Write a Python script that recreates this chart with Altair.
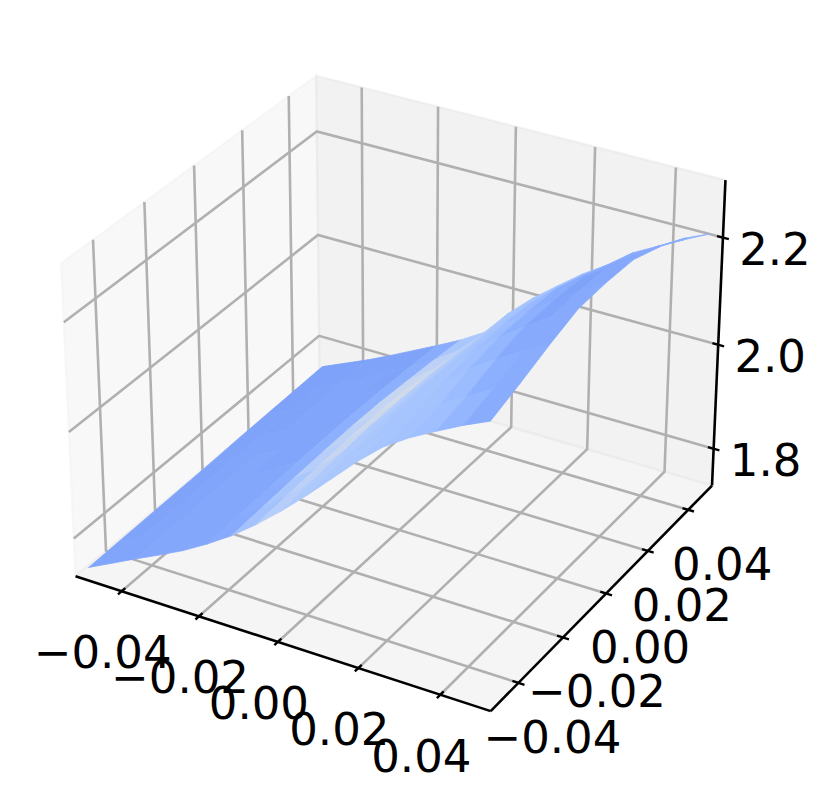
import numpy as np
import pandas as pd
import altair as alt

# ---- values ----
x_ticks = [-0.04, -0.02, 0.00, 0.02, 0.04]
y_ticks = [-0.04, -0.02, 0.00, 0.02, 0.04]
z_ticks = [1.8, 2.0, 2.2]
x_labels = ["\u22120.04", "\u22120.02", "0.00", "0.02", "0.04"]
y_labels = ["\u22120.04", "\u22120.02", "0.00", "0.02", "0.04"]
z_labels = ["1.8", "2.0", "2.2"]
x_lim = [-0.0521, 0.0521]
y_lim = [-0.0521, 0.0521]
z_lim = [1.728, 2.305]
grid_x = [-0.05, -0.04375, -0.0375, -0.03125, -0.025, -0.01875, -0.0125, -0.00625, 0.0,
          0.00625, 0.0125, 0.01875, 0.025, 0.03125, 0.0375, 0.04375, 0.05]
grid_y = [-0.05, -0.0375, -0.025, -0.0125, 0.0, 0.0125, 0.025, 0.0375, 0.05]
z_rows = [
    [1.741, 1.764, 1.787, 1.809, 1.832, 1.859, 1.889, 1.924, 1.963, 2.005, 2.050, 2.095, 2.135, 2.165, 2.190, 2.214, 2.235],
    [1.742, 1.765, 1.787, 1.810, 1.834, 1.861, 1.892, 1.928, 1.968, 2.010, 2.056, 2.102, 2.144, 2.176, 2.204, 2.230, 2.254],
    [1.743, 1.766, 1.788, 1.811, 1.836, 1.864, 1.895, 1.931, 1.972, 2.015, 2.063, 2.111, 2.155, 2.193, 2.223, 2.251, 2.275],
    [1.744, 1.767, 1.788, 1.812, 1.838, 1.866, 1.897, 1.934, 1.976, 2.021, 2.070, 2.118, 2.164, 2.203, 2.236, 2.266, 2.293],
    [1.745, 1.767, 1.789, 1.813, 1.839, 1.867, 1.898, 1.934, 1.976, 2.021, 2.069, 2.118, 2.164, 2.203, 2.236, 2.268, 2.295],
    [1.747, 1.768, 1.789, 1.813, 1.839, 1.867, 1.897, 1.933, 1.974, 2.018, 2.067, 2.114, 2.160, 2.199, 2.232, 2.264, 2.292],
    [1.748, 1.769, 1.789, 1.813, 1.838, 1.865, 1.893, 1.927, 1.968, 2.012, 2.056, 2.100, 2.145, 2.180, 2.210, 2.243, 2.272],
    [1.749, 1.769, 1.789, 1.812, 1.837, 1.862, 1.888, 1.919, 1.962, 2.003, 2.044, 2.085, 2.125, 2.158, 2.188, 2.218, 2.245],
    [1.750, 1.770, 1.790, 1.812, 1.835, 1.858, 1.882, 1.910, 1.960, 2.002, 2.038, 2.073, 2.103, 2.138, 2.163, 2.187, 2.210],
]
c_rows = [
    [.22, .22, .225, .225, .225, .235, .31, .36, .34, .33, .33, .32, .31, .30, .27, .24],
    [.215, .22, .225, .225, .225, .24, .33, .38, .34, .33, .32, .32, .31, .29, .25, .24],
    [.215, .22, .225, .225, .225, .245, .36, .41, .34, .33, .32, .32, .30, .27, .235, .235],
    [.215, .22, .225, .22, .22, .25, .38, .43, .35, .33, .32, .31, .29, .25, .22, .235],
    [.215, .22, .22, .22, .22, .25, .40, .44, .35, .33, .32, .31, .28, .24, .215, .23],
    [.215, .215, .22, .22, .22, .25, .41, .42, .34, .33, .32, .30, .27, .235, .215, .23],
    [.21, .215, .22, .22, .215, .245, .38, .38, .33, .32, .31, .29, .26, .235, .22, .24],
    [.21, .21, .215, .215, .215, .24, .33, .34, .32, .31, .30, .28, .26, .24, .24, .25],
]
cmap_domain = [.20, .25, .30, .35, .40, .45, .50]
cmap_range = ["#7a9df8", "#8db0fe", "#9fbfff", "#b2ccfb", "#c4d5f3", "#d4dbe6", "#dddcdc"]
# box corners as seen in the picture: (x, y, z) index into limits -> pixel
corner_idx = [(0, 1, 1), (0, 0, 1), (1, 1, 1), (0, 0, 0), (1, 0, 0), (1, 1, 0)]
corner_px = [(317, 76), (61, 263), (725, 180), (75, 574), (491, 712), (712, 487)]

# ---- camera of a 3D box (elevation 30, azimuth -60) ----
box = np.array([4, 4, 3]) * 1.8294640721620434 / np.sqrt(41)
el, az = np.radians(30), np.radians(-60)
w = np.array([np.cos(el) * np.cos(az), np.cos(el) * np.sin(az), np.sin(el)])
eye = box / 2 + 10 * w
u = np.cross([0, 0, 1], w)
u /= np.linalg.norm(u)
v = np.cross(w, u)


def cam(x, y, z):
    p = np.array([(x - x_lim[0]) / (x_lim[1] - x_lim[0]),
                  (y - y_lim[0]) / (y_lim[1] - y_lim[0]),
                  (z - z_lim[0]) / (z_lim[1] - z_lim[0])]) * box - eye
    d = -p.dot(w)
    return p.dot(u) / d, p.dot(v) / d, d


_c = [cam(x_lim[i], y_lim[j], z_lim[k]) for i, j, k in corner_idx]
ax_fit = np.polyfit([c[0] for c in _c], [p[0] for p in corner_px], 1)
ay_fit = np.polyfit([c[1] for c in _c], [p[1] for p in corner_px], 1)


def pix(x, y, z):
    a, b, _ = cam(x, y, z)
    return float(np.polyval(ax_fit, a)), float(np.polyval(ay_fit, b))


def path_rows(pid, pts, **extra):
    rows = []
    for i, p in enumerate(pts):
        a, b = pix(*p)
        rows.append(dict(pid=pid, i=i, px=a, py=b, **extra))
    return rows


x0, x1 = x_lim
y0, y1 = y_lim
z0, z1 = z_lim
tick_half = 0.00145

# ---- tables ----
panes = [
    ("#f2f2f2", [(x0, y0, z0), (x0, y1, z0), (x0, y1, z1), (x0, y0, z1), (x0, y0, z0)]),
    ("#e6e6e6", [(x0, y1, z0), (x1, y1, z0), (x1, y1, z1), (x0, y1, z1), (x0, y1, z0)]),
    ("#ececec", [(x0, y0, z0), (x1, y0, z0), (x1, y1, z0), (x0, y1, z0), (x0, y0, z0)]),
]
grid_rows = []
for t in x_ticks:
    grid_rows += path_rows(f"x{t}", [(t, y0, z0), (t, y1, z0), (t, y1, z1)])
for t in y_ticks:
    grid_rows += path_rows(f"y{t}", [(x1, t, z0), (x0, t, z0), (x0, t, z1)])
for t in z_ticks:
    grid_rows += path_rows(f"z{t}", [(x0, y0, t), (x0, y1, t), (x1, y1, t)])
grid_df = pd.DataFrame(grid_rows)

axis_rows = []
axis_rows += path_rows("ax", [(x0, y0, z0), (x1, y0, z0)])
axis_rows += path_rows("ay", [(x1, y0, z0), (x1, y1, z0)])
axis_rows += path_rows("az", [(x1, y1, z0), (x1, y1, z1)])
axis_df = pd.DataFrame(axis_rows)

tick_rows = []
text_rows = {"x": [], "y": [], "z": []}
for t, lab in zip(x_ticks, x_labels):
    tick_rows += path_rows(f"tx{t}", [(t, y0 - tick_half, z0), (t, y0 + tick_half, z0)])
    a, b = pix(t, y0, z0)
    text_rows["x"].append(dict(px=a, py=b, label=lab))
for t, lab in zip(y_ticks, y_labels):
    tick_rows += path_rows(f"ty{t}", [(x1 - tick_half, t, z0), (x1 + tick_half, t, z0)])
    a, b = pix(x1, t, z0)
    text_rows["y"].append(dict(px=a, py=b, label=lab))
for t, lab in zip(z_ticks, z_labels):
    tick_rows += path_rows(f"tz{t}", [(x1 - tick_half, y1, t), (x1 + tick_half, y1, t)])
    a, b = pix(x1, y1, t)
    text_rows["z"].append(dict(px=a, py=b, label=lab))
tick_df = pd.DataFrame(tick_rows)

quads = []
for r in range(len(grid_y) - 1):
    for k in range(len(grid_x) - 1):
        pts = [(grid_x[k], grid_y[r], z_rows[r][k]),
               (grid_x[k + 1], grid_y[r], z_rows[r][k + 1]),
               (grid_x[k + 1], grid_y[r + 1], z_rows[r + 1][k + 1]),
               (grid_x[k], grid_y[r + 1], z_rows[r + 1][k]),
               (grid_x[k], grid_y[r], z_rows[r][k])]
        depth = np.mean([cam(*p)[2] for p in pts[:4]])
        quads.append((depth, r, k, pts))
quads.sort(key=lambda q: -q[0])
surf_rows = []
for n, (_, r, k, pts) in enumerate(quads):
    surf_rows += path_rows(f"q{n:03d}", pts, c=c_rows[r][k])
surf_df = pd.DataFrame(surf_rows)

# ---- chart ----
PX = alt.X("px:Q", scale=alt.Scale(domain=[8, 823], nice=False, zero=False), axis=None)
PY = alt.Y("py:Q", scale=alt.Scale(domain=[797, 8], nice=False, zero=False), axis=None)
layers = []
for color, pts in panes:
    df = pd.DataFrame(path_rows("p", pts))
    layers.append(alt.Chart(df).mark_line(fill=color, fillOpacity=0.5, stroke=color,
                                          strokeOpacity=0.5, strokeWidth=2.2,
                                          strokeJoin="miter").encode(
        x=PX, y=PY, order=alt.Order("i:Q")))
layers.append(alt.Chart(grid_df).mark_line(color="#b0b0b0", strokeWidth=2.6, strokeJoin="miter").encode(
    x=PX, y=PY, detail="pid:N", order=alt.Order("i:Q")))
layers.append(alt.Chart(axis_df).mark_line(color="#000000", strokeWidth=2.6).encode(
    x=PX, y=PY, detail="pid:N", order=alt.Order("i:Q")))
layers.append(alt.Chart(tick_df).mark_line(color="#000000", strokeWidth=2.4).encode(
    x=PX, y=PY, detail="pid:N", order=alt.Order("i:Q")))
label_offsets = {"x": (-19, 63), "y": (34, 56), "z": (52, 13)}
for key, (dx, dy) in label_offsets.items():
    layers.append(alt.Chart(pd.DataFrame(text_rows[key])).mark_text(
        font="DejaVu Sans", fontSize=45, color="#000000", align="center",
        baseline="middle", dx=dx, dy=dy).encode(x=PX, y=PY, text="label:N"))
cscale = alt.Scale(domain=cmap_domain, range=cmap_range)
layers.append(alt.Chart(surf_df).mark_line(strokeWidth=0.8, strokeJoin="round").encode(
    x=PX, y=PY, detail="pid:N", order=alt.Order("i:Q"),
    fill=alt.Fill("c:Q", scale=cscale, legend=None),
    stroke=alt.Stroke("c:Q", scale=cscale, legend=None)))

chart = alt.layer(*layers).properties(width=815, height=789, padding=0, autosize="none").configure_view(stroke=None)
chart.save("out.html", embed_options={"renderer": "svg", "actions": False})
